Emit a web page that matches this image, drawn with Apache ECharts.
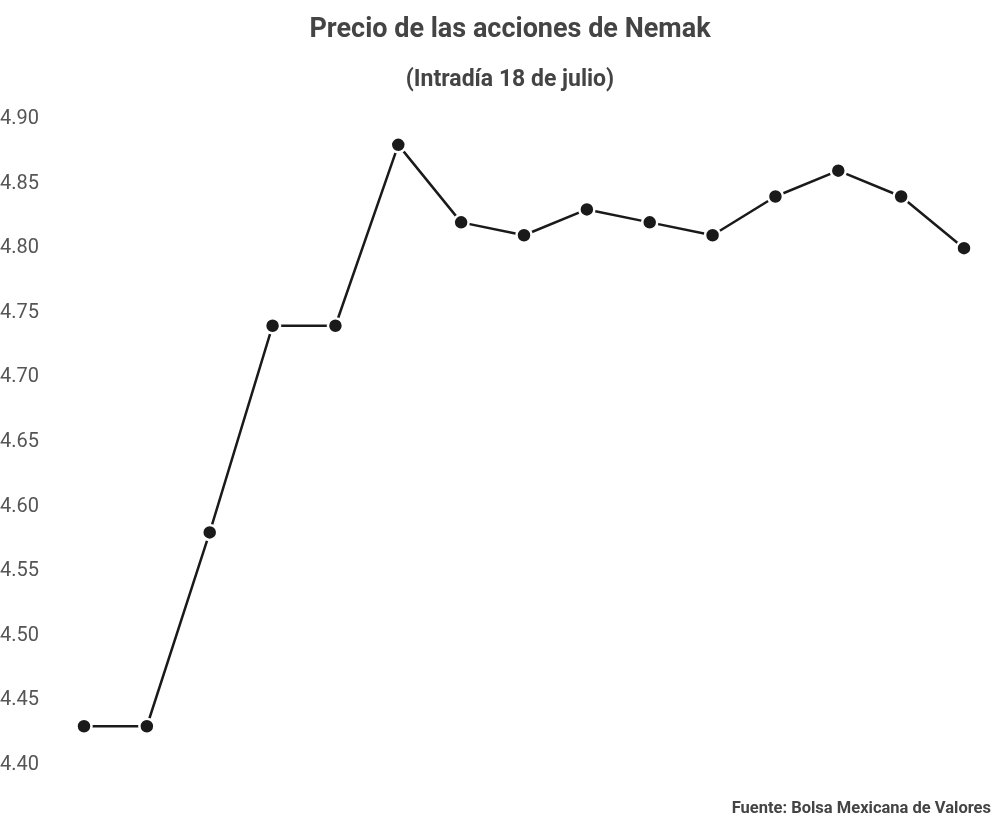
<!DOCTYPE html>
<html>
<head>
<meta charset="utf-8">
<script src="https://cdn.jsdelivr.net/npm/echarts@6/dist/echarts.min.js"></script>
<style>html,body{margin:0;padding:0;background:#fff}#c{width:1000px;height:831px}</style>
</head>
<body>
<div id="c"></div>
<script>
const categories = ['1','2','3','4','5','6','7','8','9','10','11','12','13','14','15'];
const prices = [4.43, 4.43, 4.58, 4.74, 4.74, 4.88, 4.82, 4.81, 4.83, 4.82, 4.81, 4.84, 4.86, 4.84, 4.80];
const yMin = 4.40, yMax = 4.90, yStep = 0.05;

const chart = echarts.init(document.getElementById('c'));
chart.setOption({
  backgroundColor: '#fff',
  animation: false,
  title: [
    {text: 'Precio de las acciones de Nemak', left: 505, top: 12, textAlign: 'center',
     textStyle: {fontFamily: 'Roboto', fontSize: 27, fontWeight: 'bold', color: '#444'}},
    {text: '(Intradía 18 de julio)', left: 505, top: 64, textAlign: 'center',
     textStyle: {fontFamily: 'Roboto', fontSize: 23, fontWeight: 'bold', color: '#444'}},
    {text: 'Fuente: Bolsa Mexicana de Valores', right: 4, top: 795,
     textStyle: {fontFamily: 'Roboto', fontSize: 16.5, fontWeight: 'bold', color: '#444'}}
  ],
  grid: {left: 84, right: 36, top: 119, bottom: 66, containLabel: false, outerBoundsMode: 'none'},
  xAxis: {
    type: 'category', data: categories, boundaryGap: false,
    axisLine: {show: false}, axisTick: {show: false}, axisLabel: {show: false}, splitLine: {show: false}
  },
  yAxis: {
    type: 'value', min: yMin, max: yMax, interval: yStep,
    axisLine: {show: false}, axisTick: {show: false}, splitLine: {show: false},
    axisLabel: {
      formatter: v => v.toFixed(2), fontFamily: 'Roboto', fontSize: 20, color: '#555',
      align: 'left', margin: 84
    }
  },
  series: [{
    type: 'line', data: prices,
    lineStyle: {color: '#1a1a1a', width: 2.5},
    symbol: 'circle', symbolSize: 15,
    itemStyle: {color: '#1a1a1a', borderColor: '#fff', borderWidth: 2.5}
  }]
});
</script>
</body>
</html>
